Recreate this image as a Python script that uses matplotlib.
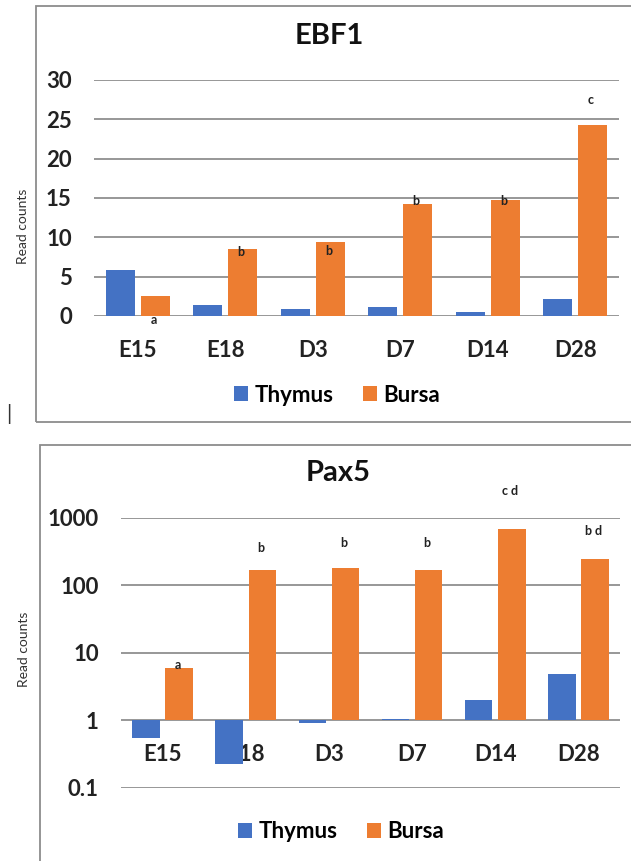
import matplotlib
matplotlib.use('Agg')
import matplotlib.pyplot as plt
from matplotlib.patches import Rectangle

plt.rcParams['font.family'] = ['Lato', 'DejaVu Sans']

stages = ['E15', 'E18', 'D3', 'D7', 'D14', 'D28']

ebf1_thymus = [5.9, 1.4, 0.95, 1.2, 0.55, 2.1]
ebf1_bursa = [2.5, 8.5, 9.4, 14.2, 14.7, 24.3]
ebf1_letters = ['a', 'b', 'b', 'b', 'b', 'c']
ebf1_letter_y = [-0.5, 8.1, 8.2, 14.6, 14.6, 27.5]
ebf1_ticks = [0, 5, 10, 15, 20, 25, 30]

pax5_thymus = [0.55, 0.23, 0.9, 1.06, 1.97, 4.9]
pax5_bursa = [5.9, 167, 177, 165, 685, 241]
pax5_letters = ['a', 'b', 'b', 'b', 'c d', 'b d']
pax5_letter_y = [6.7, 357, 424, 424, 2460, 624]
pax5_ticks = [0.1, 1, 10, 100, 1000]
pax5_ticklabels = ['0.1', '1', '10', '100', '1000']

BLUE = '#4472C4'
ORANGE = '#ED7D31'
GRID = '#8f8f8f'
FRAME = '#8c8c8c'

W, H = 631, 861
fig = plt.figure(figsize=(W / 100, H / 100), dpi=100)


def px_rect(left, top, right, bottom):
    # pixel box (from top-left) -> figure fraction
    return [left / W, 1 - bottom / H, (right - left) / W, (bottom - top) / H]


def draw_panel(ax, thymus, bursa, letters, letter_y, base):
    xs = list(range(len(stages)))
    ax.bar([i - 0.2 for i in xs], [v - base for v in thymus], 0.33, bottom=base,
           color=BLUE, label='Thymus', zorder=3)
    ax.bar([i + 0.2 for i in xs], [v - base for v in bursa], 0.33, bottom=base,
           color=ORANGE, label='Bursa', zorder=3)
    for i, (lt, ly) in enumerate(zip(letters, letter_y)):
        ax.text(i + 0.18, ly, lt, ha='center', va='center', fontsize=9,
                fontweight='bold', color='#222222', zorder=4)
    ax.set_xlim(-0.5, len(stages) - 0.5)
    ax.set_xticks(xs)
    ax.set_xticklabels(stages)
    ax.yaxis.grid(True, color=GRID, lw=1.3)
    ax.set_axisbelow(True)
    for s in ax.spines.values():
        s.set_visible(False)
    ax.spines['bottom'].set_position(('data', base))
    ax.tick_params(axis='x', length=0, labelsize=16, pad=17)
    ax.tick_params(axis='y', length=0, labelsize=16, pad=16)
    for lab in ax.get_xticklabels() + ax.get_yticklabels():
        lab.set_fontweight('bold')
        lab.set_color('#222222')


# EBF1
ax1 = fig.add_axes(px_rect(94, 80, 619, 316))
draw_panel(ax1, ebf1_thymus, ebf1_bursa, ebf1_letters, ebf1_letter_y, 0)
ax1.set_ylim(0, 30)
ax1.set_yticks(ebf1_ticks)
for lab in ax1.get_yticklabels():
    lab.set_fontweight('bold')

# Pax5
ax2 = fig.add_axes(px_rect(121, 517.5, 620, 788))
ax2.set_yscale('log')
draw_panel(ax2, pax5_thymus, pax5_bursa, pax5_letters, pax5_letter_y, 1)
ax2.set_ylim(0.1, 1000)
ax2.set_yticks(pax5_ticks)
ax2.set_yticklabels(pax5_ticklabels)
ax2.yaxis.set_minor_locator(matplotlib.ticker.NullLocator())
for lab in ax2.get_yticklabels():
    lab.set_fontweight('bold')

# panel frames
fig.add_artist(Rectangle((36 / W, 1 - 421.5 / H), (640 - 36) / W, 415.5 / H,
                         transform=fig.transFigure, fill=False, ec=FRAME, lw=1.3))
fig.add_artist(Rectangle((40 / W, 1 - 880 / H), (640 - 40) / W, 435 / H,
                         transform=fig.transFigure, fill=False, ec=FRAME, lw=1.3))

# titles and axis labels
fig.text(329 / W, 1 - 36 / H, 'EBF1', ha='center', va='center', fontsize=21,
         fontweight='bold', color='#111111')
fig.text(338 / W, 1 - 473 / H, 'Pax5', ha='center', va='center', fontsize=21,
         fontweight='bold', color='#111111')
fig.text(23 / W, 1 - 226 / H, 'Read counts', rotation=90, ha='center', va='center',
         fontsize=10, color='#333333')
fig.text(24 / W, 1 - 649 / H, 'Read counts', rotation=90, ha='center', va='center',
         fontsize=10, color='#333333')
fig.text(9 / W, 1 - 414 / H, '|', ha='center', va='center', fontsize=15, color='#333333')

# legends
for ax, ly, lx in [(ax1, 395, 337), (ax2, 832, 341)]:
    h, l = ax.get_legend_handles_labels()
    fig.legend(h, l, loc='center', bbox_to_anchor=(lx / W, 1 - ly / H), ncol=2,
               frameon=False, handlelength=0.65, handleheight=0.65,
               handletextpad=0.3, columnspacing=1.3,
               prop={'size': 16, 'weight': 'bold'})

fig.savefig('out.png', dpi=100)
